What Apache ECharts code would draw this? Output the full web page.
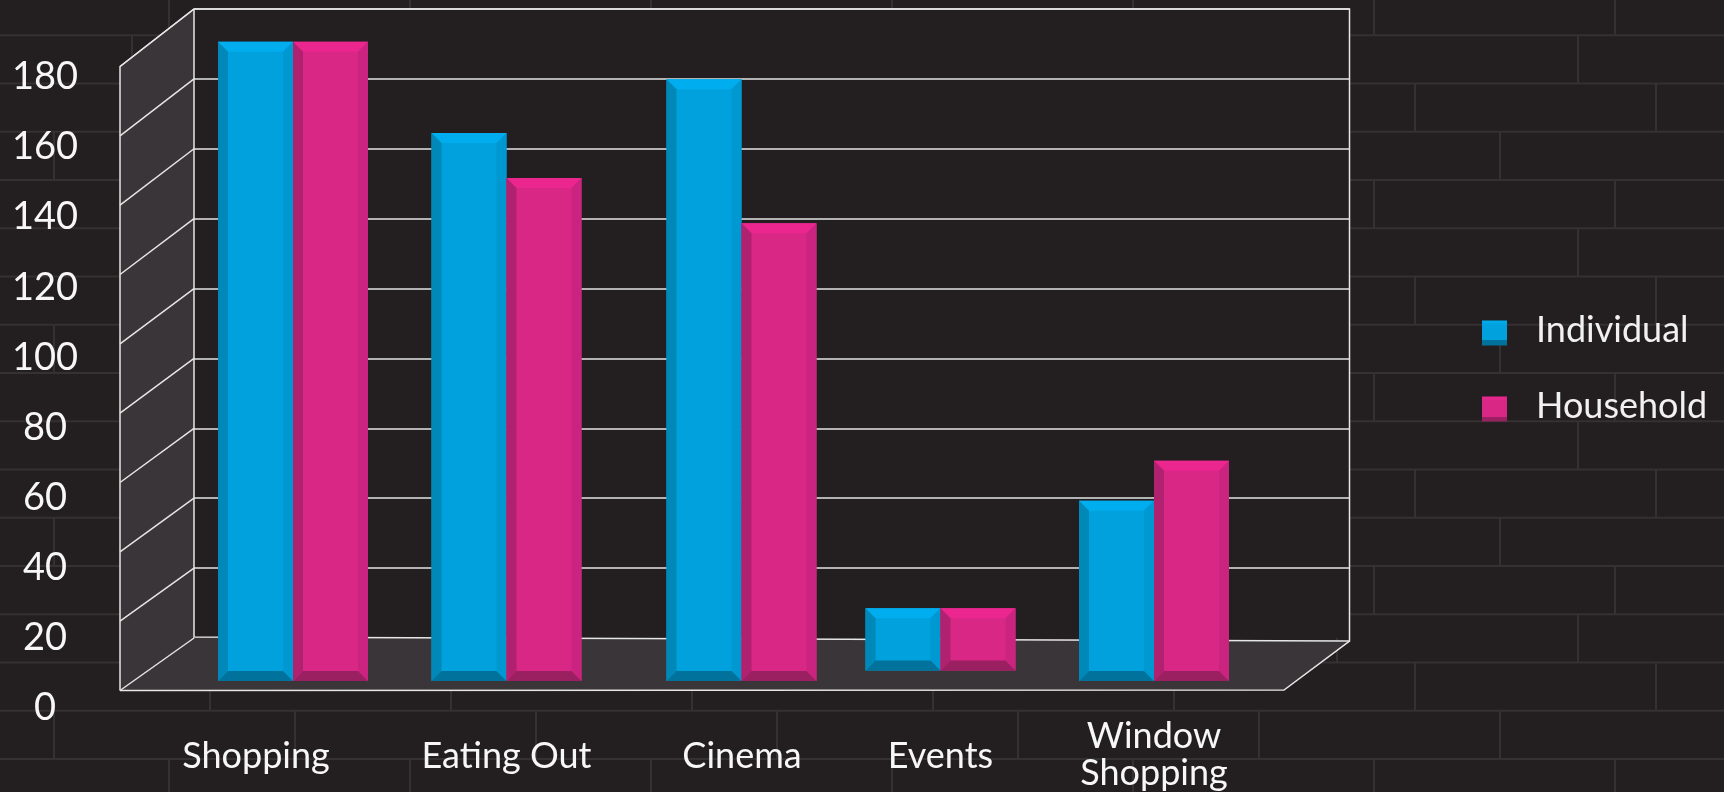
<!DOCTYPE html>
<html>
<head>
<meta charset="utf-8">
<style>html,body{margin:0;padding:0;background:#231f20}#c{width:1724px;height:792px}</style>
<script src="https://cdn.jsdelivr.net/npm/echarts@6/dist/echarts.min.js"></script>
</head>
<body>
<div id="c"></div>
<script>
const categories = ['Shopping', 'Eating Out', 'Cinema', 'Events', 'Window\nShopping'];
const individual = [184.3, 158, 173.5, 21, 52];
const household = [184.3, 145, 132, 21, 63.5];
const barBase = [0, 0, 0, 3, 0];
const yTicks = [0, 20, 40, 60, 80, 100, 120, 140, 160, 180];

// layout only
const W = 1724, H = 792;
const FONT = 'Lato';
const bandNudge = [1, -1, 18.5, 2, 0];
const labelShift = [-36, -1, 19, 2, 0];
const BAR_W = 75, BEVEL = 10;
const WALL = '#3a3538', LINE = '#e6e6e6';
const BLUE = {main:'#00a1dd', top:'#00aeef', left:'#0089b8', bottom:'#00729c', right:'#0098d0'};
const PINK = {main:'#d92786', top:'#ec268f', left:'#b0226f', bottom:'#9b2062', right:'#cb2480'};

function brickLines() {
  const out = [], stroke = {stroke:'#343132', lineWidth:2};
  const phases = [169, 132, 210, 54];      // repeating stagger of the wall
  const rowH = 48.25, brickW = 241;
  for (let r = 0; r < 18; r++) {
    const y0 = -13 + r * rowH;
    out.push({type:'line', z:-5, silent:true, shape:{x1:0, y1:y0, x2:W, y2:y0}, style:stroke});
    const p = phases[r % 4];
    for (let x = p; x < W; x += brickW) {
      out.push({type:'line', z:-5, silent:true, shape:{x1:x, y1:y0, x2:x, y2:y0 + rowH}, style:stroke});
    }
  }
  return out;
}

function barItem(pal, side) {
  return function (params, api) {
    const i = api.value(0);
    const c = api.coord([i, 0])[0] + bandNudge[i];
    const yb = api.coord([i, api.value(1)])[1];
    const yt = api.coord([i, api.value(2)])[1];
    const x0 = side < 0 ? c - BAR_W : c, x1 = x0 + BAR_W, b = BEVEL;
    const poly = (pts, fill) => ({type:'polygon', shape:{points:pts}, style:{fill}});
    return {type:'group', children:[
      {type:'rect', shape:{x:x0, y:yt, width:BAR_W, height:yb - yt}, style:{fill:pal.main}},
      poly([[x0,yt],[x1,yt],[x1-b,yt+b],[x0+b,yt+b]], pal.top),
      poly([[x0,yt],[x0+b,yt+b],[x0+b,yb-b],[x0,yb]], pal.left),
      poly([[x1,yt],[x1-b,yt+b],[x1-b,yb-b],[x1,yb]], pal.right),
      poly([[x0,yb],[x0+b,yb-b],[x1-b,yb-b],[x1,yb]], pal.bottom)
    ]};
  };
}

const rows = vals => vals.map((v, i) => [i, barBase[i], v]);
const legendFill = p => ({type:'linear', x:0, y:0, x2:0, y2:1, colorStops:[
  {offset:0, color:p.top},{offset:.2, color:p.main},{offset:.8, color:p.main},{offset:.8, color:p.bottom},{offset:1, color:p.bottom}]});

const chart = echarts.init(document.getElementById('c'), null, {renderer:'canvas'});
chart.setOption({
  animation:false,
  backgroundColor:'transparent',
  textStyle:{fontFamily:FONT},
  graphic:{elements:brickLines()},
  grid:[
    {left:194, width:1155.5, top:9, height:629, show:true, backgroundColor:'#231f20', borderWidth:0, outerBoundsMode:'none'},
    {left:184.25, width:1077.5, top:22, height:659, outerBoundsMode:'none'},
    {left:85, width:10, top:77, height:631, outerBoundsMode:'none'}
  ],
  xAxis:[
    {gridIndex:0, type:'value', min:0, max:1, show:false},
    {gridIndex:1, type:'category', data:categories.map((c, i) => ({
        value:c,
        textStyle:{padding:[c.includes('\n') ? 0 : 19.5, labelShift[i] < 0 ? -2*labelShift[i] : 0, 0, labelShift[i] > 0 ? 2*labelShift[i] : 0]}
      })),
      axisLine:{show:false}, axisTick:{show:false},
      axisLabel:{interval:0, color:'#f7f7f7', fontFamily:FONT, fontSize:36, lineHeight:37, margin:37}},
    {gridIndex:2, type:'value', min:0, max:1, show:false}
  ],
  yAxis:[
    {gridIndex:0, type:'value', min:0, max:180, interval:20, axisLine:{show:false}, axisTick:{show:false}, axisLabel:{show:false},
      splitLine:{show:true, showMinLine:false, lineStyle:{color:LINE, width:1.5}}},
    {gridIndex:1, type:'value', min:0, max:190, show:false, splitLine:{show:false}},
    {gridIndex:2, type:'value', min:0, max:180, interval:20, axisLine:{show:false}, axisTick:{show:false}, splitLine:{show:false},
      axisLabel:{color:'#f7f7f7', fontFamily:FONT, fontSize:38, align:'center', margin:40}}
  ],
  legend:{
    orient:'vertical', left:1477, top:307, itemWidth:25, itemHeight:25, itemGap:40,
    textStyle:{color:'#f1f1f1', fontFamily:FONT, fontSize:36, padding:[0,0,0,24],
      rich:{t:{color:'#f1f1f1', fontFamily:FONT, fontSize:36, padding:[0,0,6,0]}}},
    formatter:'{t|{name}}',
    data:[
      {name:'Individual', icon:'rect', itemStyle:{color:legendFill(BLUE)}},
      {name:'Household', icon:'rect', itemStyle:{color:legendFill(PINK)}}
    ]
  },
  series:[
    {type:'custom', name:'walls', xAxisIndex:0, yAxisIndex:0, z:1, silent:true, data:[[0, 180]], clip:false,
      renderItem(p, api) {
        const tl = api.coord([0,180]), bl = api.coord([0,0]), tr = api.coord([1,180]), br = api.coord([1,0]);
        const line = {stroke:LINE, lineWidth:1.5};
        const fl = [120, bl[1]+52.5], ftl = [120, tl[1]+57.5], blf = [bl[0], bl[1]-1], brf = [br[0], br[1]+3], frf = [1284, bl[1]+52];
        return {type:'group', children:[
          {type:'polygon', shape:{points:[ftl,tl,blf,fl]}, style:{fill:WALL}},
          {type:'polygon', shape:{points:[fl,blf,brf,frf]}, style:{fill:WALL}},
          {type:'polyline', shape:{points:[fl,ftl,tl,tr,brf,frf,fl]}, style:{fill:null, ...line}},
          {type:'polyline', shape:{points:[tl,blf,brf]}, style:{fill:null, ...line}}
        ]};
      }},
    {type:'custom', name:'wallTicks', xAxisIndex:0, yAxisIndex:0, z:1.5, silent:true, clip:false,
      data:yTicks.map(v => [0, v]),
      renderItem(p, api) {
        const v = api.value(1), b = api.coord([0, v]);
        return {type:'line', shape:{x1:b[0], y1:b[1], x2:120, y2:b[1] + 52.5 + 5*v/180}, style:{stroke:LINE, lineWidth:1.5}};
      }},
    {type:'custom', name:'Individual', xAxisIndex:1, yAxisIndex:1, z:3, clip:false, data:rows(individual),
      encode:{x:0, y:[1,2]}, itemStyle:{color:BLUE.main}, renderItem:barItem(BLUE, -1)},
    {type:'custom', name:'Household', xAxisIndex:1, yAxisIndex:1, z:3, clip:false, data:rows(household),
      encode:{x:0, y:[1,2]}, itemStyle:{color:PINK.main}, renderItem:barItem(PINK, 1)}
  ]
});
</script>
</body>
</html>
